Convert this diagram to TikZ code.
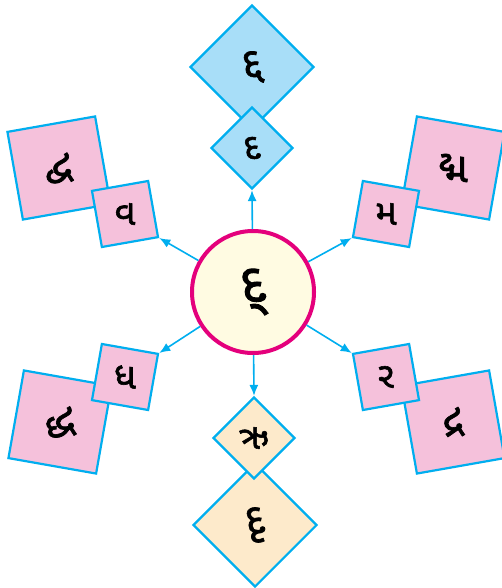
\documentclass[tikz,border=0pt]{standalone}
\usepackage{fontspec}
\newfontfamily\gujfont[Script=Gujarati, FakeBold=1.6]{Noto Sans Gujarati UI}
\usetikzlibrary{arrows.meta,shapes.geometric}
\definecolor{edgecyan}{HTML}{00AEEF}
\definecolor{hubring}{HTML}{E4007C}
\definecolor{hubfill}{HTML}{FFFBE2}
\definecolor{sqpink}{HTML}{F5C1DB}
\definecolor{diablue}{HTML}{A8DEF8}
\definecolor{diapeach}{HTML}{FDEACB}

\begin{document}
\begin{tikzpicture}[
  x=1pt, y=-1pt,
  font=\gujfont,
  link/.style={-{Latex[length=11pt,width=9pt]}, line width=1.6pt, draw=edgecyan},
  hub/.style={circle, draw=hubring, line width=4pt, fill=hubfill, minimum size=122pt,
    inner sep=0pt, font=\gujfont\fontsize{54}{54}\selectfont},
  smallsq/.style={rectangle, draw=edgecyan, line width=2.2pt, fill=sqpink, minimum size=57pt,
    inner sep=0pt, font=\gujfont\fontsize{36}{36}\selectfont},
  bigsq/.style={smallsq, minimum size=89pt, font=\gujfont\fontsize{42}{42}\selectfont},
  smalldia/.style={diamond, aspect=1, draw=edgecyan, line width=2.2pt, minimum size=82pt,
    inner sep=0pt, font=\gujfont\fontsize{36}{36}\selectfont},
  bigdia/.style={smalldia, minimum size=124pt, font=\gujfont\fontsize{42}{42}\selectfont}
]
\useasboundingbox (0,0) rectangle (502,588);

% centre
\node[hub] (hub) at (253,292) {દ્};

% top pair
\node[bigdia, fill=diablue] (bDa) at (252,67) {દ્દ};
\node[smalldia, fill=diablue] (sDa) at (252,148) {દ};

% bottom pair
\node[bigdia, fill=diapeach] (bRu) at (255,525) {દૃ};
\node[smalldia, fill=diapeach] (sRu) at (254,438) {ઋ};

% upper left
\node[bigsq, rotate=10] (bVa) at (59,168) {\rotatebox{-10}{દ્વ}};
\node[smallsq, rotate=10] (sVa) at (125,214) {\rotatebox{-10}{વ}};

% upper right
\node[bigsq, rotate=-10] (bMa) at (453,168) {\rotatebox{10}{દ્મ}};
\node[smallsq, rotate=-10] (sMa) at (386,214) {\rotatebox{10}{મ}};

% lower left
\node[bigsq, rotate=-10] (bDha) at (60,422) {\rotatebox{10}{દ્ધ}};
\node[smallsq, rotate=-10] (sDha) at (125,377) {\rotatebox{10}{ધ}};

% lower right
\node[bigsq, rotate=10] (bRa) at (453,422) {\rotatebox{-10}{દ્ર}};
\node[smallsq, rotate=10] (sRa) at (386,377) {\rotatebox{-10}{ર}};

% arrows from the centre
\draw[link] (hub) -- (sDa.south);
\draw[link] (hub) -- (sRu.north);
\draw[link] (hub) -- (sVa.south east);
\draw[link] (hub) -- (sMa.south west);
\draw[link] (hub) -- (sDha.north east);
\draw[link] (hub) -- (sRa.north west);

\end{tikzpicture}
\end{document}
